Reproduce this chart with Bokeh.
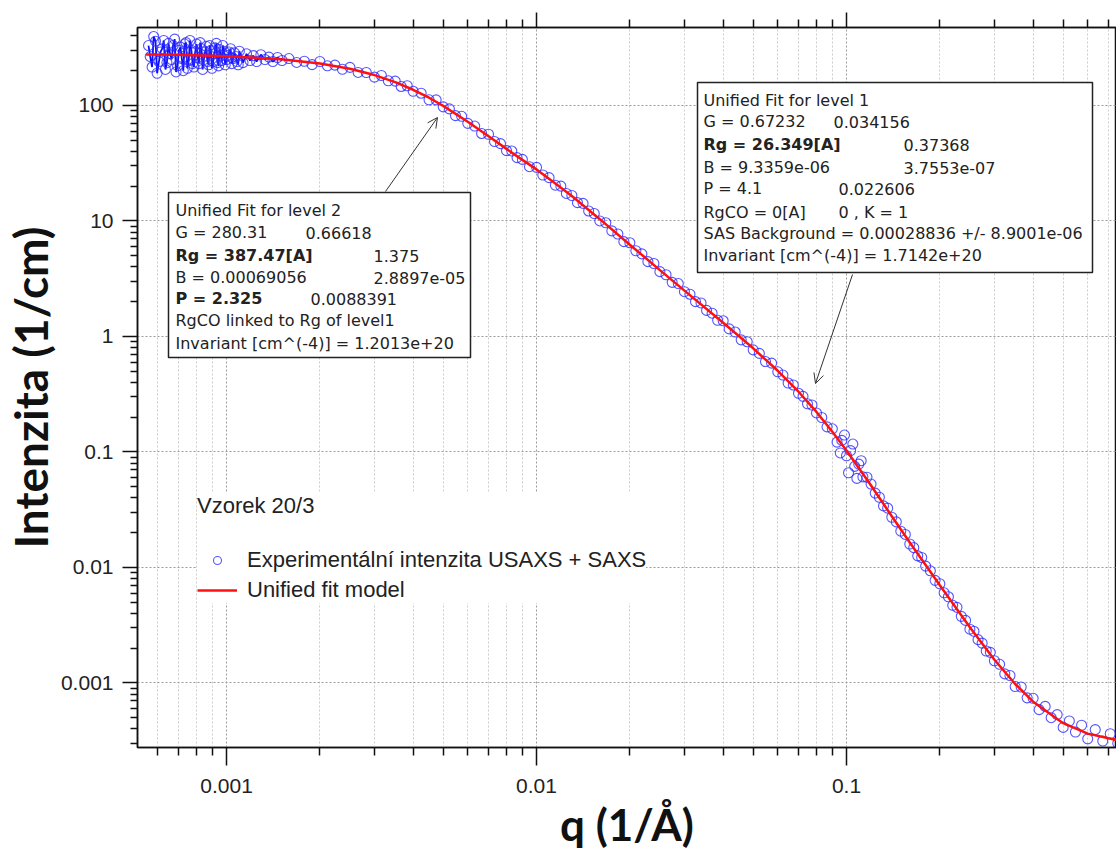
import math
from bokeh.plotting import figure
from bokeh.models import (Range1d, FixedTicker, NumeralTickFormatter, LogAxis, Legend,
                          LegendItem, Title, Arrow, OpenHead, CustomJSTickFormatter)
from bokeh.core.properties import value
from bokeh.embed import file_html
from bokeh.resources import INLINE

# ---------------- data ----------------
# experimental intensity, low-q (noisy USAXS part)
q_low = [0.00056, 0.000575, 0.00059, 0.000605, 0.00062, 0.000635, 0.00065, 0.000665, 0.00068, 0.000695,
         0.00071, 0.000725, 0.00074, 0.000755, 0.00077, 0.000785, 0.0008, 0.000815, 0.00083, 0.000845,
         0.00086, 0.000875, 0.00089, 0.000905, 0.00092, 0.000935, 0.00095, 0.000965, 0.00098, 0.001,
         0.00102, 0.00104, 0.00106, 0.00108, 0.0011, 0.00113, 0.00116, 0.00119, 0.00122, 0.00125,
         0.00129, 0.00133, 0.00137, 0.00141, 0.00146, 0.00151]
I_low = [330, 215, 360, 240, 310, 205, 345, 250, 375, 220,
         320, 200, 350, 245, 300, 215, 340, 230, 310, 250,
         325, 225, 300, 240, 315, 235, 305, 245, 295, 250,
         290, 230, 285, 240, 295, 235, 280, 245, 270, 240,
         275, 250, 262, 240, 260, 245]
q_low2 = [0.000567, 0.000582, 0.000597, 0.000612, 0.000627, 0.000642, 0.000657, 0.000672, 0.000687, 0.000702,
          0.000717, 0.000732, 0.000747, 0.000762, 0.000777, 0.000792, 0.000807, 0.000822, 0.000837, 0.000852,
          0.000867, 0.000882, 0.000897, 0.000912, 0.000927, 0.000942, 0.000957, 0.000972, 0.00099, 0.00101,
          0.00103, 0.00105, 0.00107, 0.00109]
I_low2 = [265, 395, 190, 290, 365, 235, 280, 330, 195, 300,
          255, 340, 210, 365, 230, 290, 260, 350, 205, 290,
          240, 330, 210, 280, 345, 220, 270, 330, 225, 270,
          310, 255, 265, 225]

# experimental intensity, middle part
q_mid = [0.001589, 0.001683, 0.001782, 0.001888, 0.002, 0.002115, 0.002236, 0.002364, 0.0025, 0.002657,
         0.002823, 0.003, 0.003158, 0.003325, 0.0035, 0.003659, 0.003826, 0.004, 0.004243, 0.0045,
         0.004743, 0.005, 0.005233, 0.005477, 0.005733, 0.006, 0.006316, 0.006649, 0.007, 0.007319,
         0.007652, 0.008, 0.00832, 0.008653, 0.009, 0.009487, 0.01, 0.010477, 0.010976, 0.0115,
         0.01198, 0.01248, 0.013, 0.013551, 0.014126, 0.014725, 0.01535, 0.016, 0.01673, 0.017494,
         0.018293, 0.019128, 0.02, 0.020913, 0.021867, 0.022866, 0.02391, 0.025, 0.026166, 0.027386,
         0.028663, 0.03, 0.031259, 0.03257, 0.033936, 0.03536, 0.036843, 0.038389, 0.04, 0.041826,
         0.043734, 0.045731, 0.047818, 0.05, 0.052332, 0.054772, 0.057327, 0.06, 0.062357, 0.064807,
         0.067353, 0.07, 0.072377, 0.074835, 0.077377, 0.08, 0.083203, 0.086535]
I_mid = [254.6, 235.7, 241.3, 225.5, 240.1, 220.4, 223.3, 205.7, 213.8, 193.1,
         192.9, 175.9, 181.8, 163.6, 162.4, 146.0, 148.1, 132.6, 127.6, 111.9,
         111.8, 97.2, 93.4, 81.6, 80.5, 70.0, 66.3, 57.2, 56.3, 48.7,
         46.7, 40.6, 40.3, 35.3, 34.1, 29.5, 29.1, 25.0, 23.7, 20.4,
         20.0, 17.3, 16.6, 14.4, 14.2, 12.2, 11.6, 10.0, 9.64, 8.20,
         7.71, 6.62, 6.48, 5.52, 5.19, 4.44, 4.28, 3.64, 3.42, 2.94,
         2.87, 2.44, 2.32, 2.00, 1.95, 1.68, 1.59, 1.38, 1.366, 1.162,
         1.092, 0.934, 0.900, 0.765, 0.713, 0.606, 0.587, 0.494, 0.463, 0.395,
         0.380, 0.322, 0.303, 0.261, 0.255, 0.2176, 0.1986, 0.1647]

# experimental intensity, high-q (SAXS part)
q_high = [0.09, 0.093217, 0.0955, 0.096549, 0.0985, 0.1, 0.1015, 0.103085, 0.1048, 0.106265,
          0.108, 0.109543, 0.1115, 0.112923, 0.116407, 0.12, 0.123757, 0.127632, 0.131628, 0.135749,
          0.14, 0.144754, 0.149669, 0.154751, 0.16, 0.16478, 0.1697, 0.17477, 0.18, 0.18643,
          0.1931, 0.2, 0.20648, 0.21317, 0.22008, 0.22721, 0.23457, 0.24217, 0.25, 0.25771,
          0.26566, 0.27386, 0.28231, 0.29102, 0.3, 0.31179, 0.32403, 0.33676, 0.35, 0.36593,
          0.38259, 0.4, 0.41826, 0.43735, 0.4573, 0.47818, 0.5, 0.52332, 0.54772, 0.57327,
          0.6, 0.63442, 0.67082, 0.7093, 0.75]
I_high = [0.1586, 0.1215, 0.098, 0.1259, 0.140, 0.0927, 0.066, 0.1027, 0.117, 0.0750,
          0.059, 0.0784, 0.084, 0.0608, 0.0604, 0.0527, 0.0440, 0.0405, 0.0341, 0.0326,
          0.0272, 0.0248, 0.0206, 0.0193, 0.01595, 0.01484, 0.01260, 0.01220, 0.01027, 0.00935,
          0.00773, 0.00722, 0.00603, 0.00557, 0.00470, 0.00451, 0.00377, 0.00348, 0.00292, 0.00280,
          0.00237, 0.00221, 0.00189, 0.00184, 0.001556, 0.001449, 0.001197, 0.001160, 0.000930, 0.000922,
          0.000743, 0.000736, 0.000587, 0.000626, 0.000500, 0.000532, 0.000412, 0.000468, 0.000376, 0.000430,
          0.000328, 0.000394, 0.000314, 0.000363, 0.000300]

# unified fit model curve
q_fit = [0.00055, 0.0007, 0.001, 0.0015, 0.002, 0.0025, 0.003, 0.0035, 0.004, 0.0045,
         0.005, 0.006, 0.007, 0.008, 0.009, 0.01, 0.0115, 0.013, 0.016, 0.02,
         0.025, 0.03, 0.04, 0.05, 0.06, 0.07, 0.08, 0.09, 0.1, 0.12,
         0.14, 0.16, 0.18, 0.2, 0.25, 0.3, 0.35, 0.4, 0.5, 0.6, 0.75]
I_fit = [276.8, 274.2, 267.3, 251.4, 230.9, 207.6, 183.2, 159.2, 136.7, 116.6,
         99.2, 72.2, 54.1, 42.07, 33.79, 27.95, 21.14, 16.43, 10.36, 6.227,
         3.754, 2.494, 1.3135, 0.789, 0.5044, 0.3321, 0.222, 0.1496, 0.103, 0.0512,
         0.02777, 0.01644, 0.01048, 0.007006, 0.003029, 0.001588, 0.000979, 0.000688, 0.000448, 0.000364, 0.000319]

x_major = [0.001, 0.01, 0.1]
y_major = [0.001, 0.01, 0.1, 1, 10, 100]

box1_lines = ["Unified Fit for level 2", "G = 280.31", "Rg = 387.47[A]", "B = 0.00069056",
              "P = 2.325", "RgCO linked to Rg of level1", "Invariant [cm^(-4)] = 1.2013e+20"]
box1_vals = ["", "0.66618", "1.375", "2.8897e-05", "0.0088391", "", ""]
box1_bold = [False, False, True, False, True, False, False]
box2_lines = ["Unified Fit for level 1", "G = 0.67232", "Rg = 26.349[A]", "B = 9.3359e-06", "P = 4.1",
              "RgCO = 0[A]", "SAS Background = 0.00028836 +/- 8.9001e-06", "Invariant [cm^(-4)] = 1.7142e+20"]
box2_vals = ["", "0.034156", "0.37368", "3.7553e-07", "0.022606", "0 , K = 1", "", ""]
box2_bold = [False, False, True, False, False, False, False, False]

# ---------------- layout ----------------
W, H = 1116, 856
FL, FR, FT, FB = 137, 1116, 27, 747
X0, X1 = 5.16e-4, 0.743
Y0, Y1 = 2.76e-4, 473.0


def px_x(px):
    a, b = math.log10(X0), math.log10(X1)
    return 10 ** (a + (px - FL) / (FR - FL) * (b - a))


def px_y(py):
    a, b = math.log10(Y0), math.log10(Y1)
    return 10 ** (a + (FB - py) / (FB - FT) * (b - a))


p = figure(width=W, height=H, x_axis_type="log", y_axis_type="log",
           x_range=Range1d(X0, X1), y_range=Range1d(Y0, Y1),
           output_backend="svg", toolbar_location=None,
           min_border_left=FL, min_border_right=0, min_border_top=FT, min_border_bottom=H - FB)
p.background_fill_color = "white"
p.border_fill_color = "white"
p.outline_line_color = "#111111"
p.outline_line_width = 1.5

x_minor = [m * 10.0 ** e for e in (-4, -3, -2, -1) for m in range(2, 10)]
y_minor = [m * 10.0 ** e for e in range(-4, 3) for m in range(2, 10)]
xt = FixedTicker(ticks=x_major, minor_ticks=x_minor)
yt = FixedTicker(ticks=y_major, minor_ticks=y_minor)

xa = p.xaxis[0]
ya = p.yaxis[0]
xa.ticker = xt
ya.ticker = yt
for ax in (xa, ya):
    ax.formatter = NumeralTickFormatter(format="0.[000]")
    ax.axis_line_color = "#111111"
    ax.axis_line_width = 1.5
    ax.major_tick_line_color = "#111111"
    ax.minor_tick_line_color = "#111111"
    ax.major_tick_line_width = 1.5
    ax.minor_tick_line_width = 1.5
    ax.major_tick_in = 0
    ax.minor_tick_in = 0
    ax.major_label_text_font = "Liberation Sans"
    ax.major_label_text_font_size = "21px"
    ax.major_label_text_color = "#222222"
xa.major_tick_out = 18
xa.minor_tick_out = 8
xa.major_label_standoff = 13
ya.major_tick_out = 15
ya.minor_tick_out = 7
ya.major_label_standoff = 9

top = LogAxis(ticker=xt, formatter=CustomJSTickFormatter(code="return ''"),
              major_label_text_font_size="2px", major_label_standoff=0,
              axis_line_color="#111111", axis_line_width=1.5,
              major_tick_line_color="#111111", minor_tick_line_color="#111111",
              major_tick_line_width=1.5, minor_tick_line_width=1.5,
              major_tick_in=0, minor_tick_in=0, major_tick_out=15, minor_tick_out=8)
p.add_layout(top, "above")

p.xgrid.ticker = xt
p.ygrid.ticker = yt
p.xgrid.grid_line_color = "#9a9a9a"
p.xgrid.grid_line_dash = "2 2"
p.xgrid.minor_grid_line_color = "#cdcdcd"
p.xgrid.minor_grid_line_dash = "2 2"
p.ygrid.grid_line_color = "#9a9a9a"
p.ygrid.grid_line_dash = "2 2"

# ---------------- axis titles ----------------
p.add_layout(Title(text="q (1/Å)", align="center", offset=19, standoff=0,
                   text_font="Lato", text_font_style="bold", text_font_size="44px",
                   text_color="#111111"), "below")
p.add_layout(Title(text="Intenzita (1/cm)", align="center", offset=59, standoff=0,
                   text_font="Lato", text_font_style="bold", text_font_size="46px",
                   text_color="#111111"), "left")

# ---------------- data ----------------
low_pairs = sorted(zip(q_low + q_low2, I_low + I_low2))
p.line([a for a, b in low_pairs], [b for a, b in low_pairs], line_color="#0000ff",
       line_width=1.8, line_alpha=0.95)
q_data = q_low + q_low2 + q_mid + q_high
I_data = I_low + I_low2 + I_mid + I_high
sc = p.scatter(q_data, I_data, marker="circle", size=10, fill_color=None,
               line_color="#2a2aff", line_alpha=0.8, line_width=1.1)
ln = p.line(q_fit, I_fit, line_color="#ff1010", line_width=2.5)

# ---------------- fit parameter boxes ----------------
FONT = value("DejaVu Sans")


def draw_box(left, right, topp, bottom, x_text, rows_y, lines, vals, vals_x, bold):
    p.quad(left=[px_x(left)], right=[px_x(right)], top=[px_y(topp)], bottom=[px_y(bottom)],
           fill_color="white", line_color="#222222", line_width=1.5)
    for i, (t, v) in enumerate(zip(lines, vals)):
        p.text(x=[px_x(x_text)], y=[px_y(rows_y[i])], text=[t], text_font=FONT,
               text_font_size="16px", text_baseline="middle", text_align="left",
               text_color="#222222", text_font_style="bold" if bold[i] else "normal")
        if v:
            p.text(x=[px_x(vals_x[i])], y=[px_y(rows_y[i])], text=[v], text_font=FONT,
                   text_font_size="16px", text_baseline="middle", text_align="left",
                   text_color="#222222")


draw_box(168, 470, 192, 357, 175, [210, 232, 255, 277, 298, 320, 343],
         box1_lines, box1_vals, [0, 305, 373, 373, 310, 0, 0], box1_bold)
draw_box(697, 1092, 82, 272, 703, [100, 121, 144, 167, 188, 212, 233, 255],
         box2_lines, box2_vals, [0, 833, 903, 903, 838, 838, 0, 0], box2_bold)

for (xs, ys, xe, ye) in [(385, 191, 437, 117), (852, 274, 815, 383)]:
    p.add_layout(Arrow(end=OpenHead(size=10, line_color="#333333", line_width=1),
                       x_start=px_x(xs), y_start=px_y(ys), x_end=px_x(xe), y_end=px_y(ye),
                       line_color="#333333", line_width=1))

# ---------------- legend ----------------
legend = Legend(items=[LegendItem(label="Experimentální intenzita USAXS + SAXS", renderers=[sc]),
                       LegendItem(label="Unified fit model", renderers=[ln])],
                title="Vzorek 20/3", location=(60, 144),
                title_text_font="Liberation Sans", title_text_font_size="22px",
                title_text_font_style="normal", title_text_color="#222222", title_standoff=28,
                label_text_font="Liberation Sans", label_text_font_size="22px",
                label_text_color="#222222",
                glyph_width=40, glyph_height=20, label_standoff=10, spacing=4, padding=10, margin=0,
                border_line_color=None, background_fill_color="white", background_fill_alpha=1.0)
p.add_layout(legend)

open("out.html", "w").write(file_html(p, INLINE))
